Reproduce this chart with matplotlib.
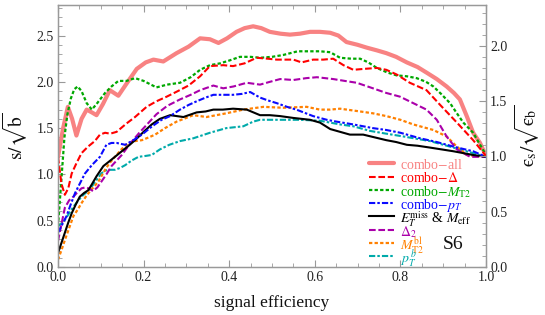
import matplotlib
matplotlib.use("Agg")
import matplotlib.pyplot as plt
from matplotlib.ticker import MultipleLocator, FormatStrFormatter

plt.rcParams['font.family'] = ['Liberation Serif', 'DejaVu Serif']
plt.rcParams['mathtext.fontset'] = 'stix'

# ---------------- data ----------------
all_x = [0.0, 0.012, 0.023, 0.033, 0.043, 0.055, 0.067, 0.079, 0.090, 0.105, 0.121, 0.141, 0.16, 0.184,
         0.205, 0.223, 0.246, 0.277, 0.305, 0.332, 0.355, 0.375, 0.395, 0.417, 0.436, 0.456, 0.475, 0.495,
         0.52, 0.542, 0.565, 0.589, 0.612, 0.636, 0.655, 0.674, 0.70, 0.721, 0.745, 0.767, 0.79, 0.815,
         0.84, 0.861, 0.885, 0.908, 0.925, 0.939, 0.955, 0.97, 0.986, 1.0]
all_y = [1.19, 1.50, 1.73, 1.60, 1.42, 1.60, 1.70, 1.67, 1.64, 1.76, 1.91, 1.85, 1.98, 2.14,
         2.21, 2.24, 2.22, 2.31, 2.38, 2.47, 2.46, 2.42, 2.47, 2.54, 2.58, 2.60, 2.58, 2.54,
         2.52, 2.51, 2.52, 2.54, 2.54, 2.53, 2.50, 2.43, 2.40, 2.37, 2.34, 2.31, 2.27, 2.21,
         2.16, 2.10, 2.03, 1.95, 1.88, 1.81, 1.63, 1.45, 1.34, 1.20]

delta_x = [0.0, 0.008, 0.016, 0.024, 0.032, 0.043, 0.055, 0.07, 0.086, 0.098, 0.110, 0.122, 0.137, 0.16,
           0.18, 0.207, 0.23, 0.254, 0.28, 0.305, 0.332, 0.355, 0.386, 0.409, 0.436, 0.464, 0.49, 0.511,
           0.55, 0.569, 0.596, 0.62, 0.643, 0.667, 0.69, 0.715, 0.745, 0.767, 0.791, 0.822, 0.861, 0.893,
           0.932, 0.97, 1.0]
delta_y = [1.19, 0.90, 0.78, 0.85, 1.01, 1.12, 1.23, 1.30, 1.36, 1.43, 1.45, 1.44, 1.46, 1.55,
           1.62, 1.73, 1.79, 1.84, 1.90, 1.96, 2.06, 2.17, 2.18, 2.17, 2.20, 2.26, 2.25, 2.24,
           2.24, 2.21, 2.24, 2.24, 2.25, 2.18, 2.13, 2.14, 2.15, 2.13, 2.08, 1.99, 1.91, 1.75,
           1.56, 1.37, 1.20]

mt2_x = [0.0, 0.008, 0.015, 0.022, 0.03, 0.038, 0.046, 0.055, 0.067, 0.079, 0.09, 0.11, 0.125, 0.141,
         0.16, 0.180, 0.2, 0.23, 0.255, 0.285, 0.31, 0.332, 0.355, 0.379, 0.40, 0.425, 0.45, 0.472,
         0.5, 0.526, 0.56, 0.589, 0.612, 0.636, 0.659, 0.685, 0.706, 0.725, 0.745, 0.77, 0.791, 0.815,
         0.838, 0.86, 0.877, 0.895, 0.916, 0.932, 0.947, 0.97, 1.0]
mt2_y = [0.44, 0.95, 1.40, 1.65, 1.82, 1.92, 1.95, 1.90, 1.77, 1.70, 1.76, 1.88, 1.95, 2.01,
         2.01, 2.04, 2.01, 1.94, 1.97, 1.99, 2.05, 2.13, 2.18, 2.20, 2.23, 2.27, 2.27, 2.26,
         2.27, 2.29, 2.33, 2.33, 2.33, 2.32, 2.26, 2.25, 2.25, 2.21, 2.15, 2.10, 2.07, 2.06,
         2.04, 2.00, 1.95, 1.87, 1.77, 1.66, 1.56, 1.45, 1.21]

pt_x = [0.0, 0.01, 0.02, 0.03, 0.04, 0.052, 0.063, 0.079, 0.098, 0.113, 0.125, 0.137, 0.157, 0.176,
        0.196, 0.22, 0.242, 0.262, 0.285, 0.305, 0.324, 0.345, 0.363, 0.385, 0.409, 0.43, 0.449, 0.472,
        0.49, 0.511, 0.535, 0.557, 0.596, 0.628, 0.651, 0.69, 0.736, 0.767, 0.80, 0.846, 0.885, 0.924,
        0.97, 1.0]
pt_y = [0.37, 0.46, 0.55, 0.68, 0.80, 0.91, 1.01, 1.10, 1.19, 1.32, 1.34, 1.34, 1.32, 1.37,
        1.43, 1.52, 1.59, 1.63, 1.70, 1.75, 1.79, 1.83, 1.86, 1.86, 1.86, 1.87, 1.89, 1.83,
        1.80, 1.77, 1.73, 1.70, 1.63, 1.59, 1.57, 1.54, 1.50, 1.48, 1.45, 1.39, 1.35, 1.30,
        1.25, 1.19]

met_x = [0.0, 0.008, 0.016, 0.024, 0.032, 0.042, 0.051, 0.061, 0.071, 0.08, 0.09, 0.106, 0.125, 0.149,
         0.165, 0.18, 0.2, 0.219, 0.238, 0.262, 0.293, 0.324, 0.345, 0.363, 0.385, 0.409, 0.441, 0.472,
         0.495, 0.519, 0.55, 0.589, 0.612, 0.636, 0.659, 0.682, 0.713, 0.74, 0.767, 0.79, 0.815, 0.84,
         0.869, 0.924, 0.97, 1.0]
met_y = [0.15, 0.26, 0.37, 0.48, 0.58, 0.68, 0.76, 0.80, 0.83, 0.90, 0.98, 1.09, 1.16, 1.25,
         1.31, 1.37, 1.46, 1.54, 1.60, 1.64, 1.62, 1.67, 1.68, 1.70, 1.70, 1.71, 1.70, 1.64,
         1.64, 1.63, 1.61, 1.59, 1.56, 1.49, 1.46, 1.43, 1.43, 1.40, 1.37, 1.35, 1.32, 1.31,
         1.29, 1.25, 1.21, 1.19]

d2_x = [0.0, 0.008, 0.016, 0.026, 0.036, 0.046, 0.055, 0.064, 0.071, 0.082, 0.092, 0.101, 0.113, 0.125,
        0.149, 0.168, 0.19, 0.21, 0.23, 0.255, 0.285, 0.31, 0.332, 0.363, 0.386, 0.41, 0.441, 0.472,
        0.495, 0.519, 0.55, 0.58, 0.605, 0.643, 0.67, 0.698, 0.736, 0.767, 0.799, 0.83, 0.861, 0.885,
        0.908, 0.932, 0.963, 1.0]
d2_y = [0.28, 0.46, 0.64, 0.72, 0.76, 0.81, 0.85, 0.86, 0.85, 0.82, 0.86, 0.92, 1.00, 1.09,
        1.21, 1.33, 1.45, 1.55, 1.65, 1.74, 1.81, 1.86, 1.91, 1.96, 1.93, 1.95, 1.99, 1.97,
        2.00, 2.03, 2.02, 2.04, 2.05, 2.03, 2.01, 1.99, 1.93, 1.88, 1.84, 1.77, 1.70, 1.59,
        1.41, 1.27, 1.19, 1.19]

bl_x = [0.0, 0.008, 0.016, 0.026, 0.036, 0.046, 0.055, 0.065, 0.075, 0.094, 0.110, 0.12, 0.133, 0.148,
        0.164, 0.18, 0.196, 0.212, 0.227, 0.25, 0.277, 0.316, 0.347, 0.393, 0.433, 0.48, 0.526, 0.581,
        0.612, 0.636, 0.659, 0.706, 0.736, 0.767, 0.80, 0.83, 0.877, 0.908, 0.932, 0.955, 1.0]
bl_y = [0.08, 0.18, 0.29, 0.42, 0.55, 0.62, 0.69, 0.76, 0.82, 0.92, 1.05, 1.12, 1.19, 1.27,
        1.34, 1.36, 1.37, 1.40, 1.43, 1.50, 1.57, 1.64, 1.62, 1.66, 1.70, 1.73, 1.72, 1.73,
        1.70, 1.70, 1.71, 1.68, 1.66, 1.63, 1.59, 1.54, 1.48, 1.41, 1.30, 1.21, 1.19]

ptb_x = [0.0, 0.008, 0.016, 0.026, 0.036, 0.046, 0.055, 0.067, 0.079, 0.09, 0.101, 0.11, 0.118, 0.133,
         0.145, 0.157, 0.172, 0.188, 0.205, 0.219, 0.238, 0.26, 0.285, 0.316, 0.355, 0.393, 0.433, 0.456,
         0.472, 0.519, 0.565, 0.612, 0.659, 0.69, 0.729, 0.767, 0.807, 0.869, 0.924, 0.97, 1.0]
ptb_y = [0.44, 0.47, 0.51, 0.58, 0.65, 0.71, 0.76, 0.81, 0.87, 0.94, 1.01, 1.04, 1.05, 1.05,
         1.07, 1.10, 1.15, 1.19, 1.20, 1.21, 1.27, 1.32, 1.36, 1.39, 1.45, 1.50, 1.52, 1.57,
         1.59, 1.59, 1.59, 1.58, 1.54, 1.52, 1.47, 1.44, 1.41, 1.36, 1.29, 1.23, 1.19]

labels = [r"combo$-$all", r"combo$-\Delta$", r"combo$-M_{\mathrm{T2}}$", r"combo$-p_T$",
          r"$E_T^{\mathrm{miss}}$ & $M_{\mathrm{eff}}$", r"$\Delta_2$", r"$M_{\mathrm{T2}}^{\mathrm{bl}}$",
          r"$p_T^{\,b}$"]
x_ticks = [0.0, 0.2, 0.4, 0.6, 0.8, 1.0]
y_ticks_left = [0.0, 0.5, 1.0, 1.5, 2.0, 2.5]
y_ticks_right = [0.0, 0.5, 1.0, 1.5, 2.0]
panel_tag = "S6"

# ---------------- styles ----------------
DASH = (3.2, 1.3)
DOT = (1.5, 1.0)
DASHDOT = (3.0, 1.0, 1.2, 1.0)
series = [
    (all_x, all_y, dict(color="#F88282", lw=3.0, solid_capstyle="round")),
    (delta_x, delta_y, dict(color="#FF0000", lw=1.5, dashes=DASH)),
    (mt2_x, mt2_y, dict(color="#00A800", lw=1.6, dashes=DOT)),
    (pt_x, pt_y, dict(color="#0A0AFF", lw=1.5, dashes=DASHDOT)),
    (met_x, met_y, dict(color="#000000", lw=1.5)),
    (d2_x, d2_y, dict(color="#AA00AA", lw=1.5, dashes=DASH)),
    (bl_x, bl_y, dict(color="#FF8000", lw=1.6, dashes=DOT)),
    (ptb_x, ptb_y, dict(color="#00AAAA", lw=1.5, dashes=DASHDOT)),
]

fig = plt.figure(figsize=(5.45, 3.15), dpi=100)
ax = fig.add_axes([58/545, 1 - 267/315, 428/545, 262/315])

order = [7, 6, 5, 4, 3, 2, 1, 0]
for i in order:
    xs, ys, st = series[i]
    ax.plot(xs, ys, zorder=2 + (8 - i) * 0.1 if i else 2, **st)

ax.set_xlim(0, 1)
ax.set_ylim(0, 2.83)

frame_col = "#999999"
for sp in ax.spines.values():
    sp.set_color(frame_col)
    sp.set_linewidth(0.9)

ax.set_xticks(x_ticks)
ax.set_yticks(y_ticks_left)
ax.xaxis.set_minor_locator(MultipleLocator(0.05))
ax.yaxis.set_minor_locator(MultipleLocator(0.1))
ax.xaxis.set_major_formatter(FormatStrFormatter("%.1f"))
ax.yaxis.set_major_formatter(FormatStrFormatter("%.1f"))
ax.tick_params(which="both", direction="in", top=True, right=False, color=frame_col,
               labelsize=10, labelcolor="#222222", pad=3)
ax.tick_params(which="major", length=5, width=0.8)
ax.tick_params(which="minor", length=2.8, width=0.6)

ax2 = ax.twinx()
ax2.set_ylim(0, 2.83 / 1.195)
ax2.set_yticks(y_ticks_right)
ax2.yaxis.set_minor_locator(MultipleLocator(0.1))
ax2.yaxis.set_major_formatter(FormatStrFormatter("%.1f"))
ax2.tick_params(which="both", direction="in", color=frame_col, labelsize=10,
                labelcolor="#222222", pad=3)
ax2.tick_params(which="major", length=5, width=0.8)
ax2.tick_params(which="minor", length=2.8, width=0.6)
for sp in ax2.spines.values():
    sp.set_color(frame_col)
    sp.set_linewidth(0.9)

eps = "\u03f5"
ax.set_xlabel("signal efficiency", fontsize=12.5, labelpad=8, color="#111111")
ax.set_ylabel(r"$\mathrm{s}/\sqrt{\mathrm{b}}$", fontsize=14, labelpad=5, color="#111111")
ax2.set_ylabel(r"$\mathrm{" + eps + r"_s}/\sqrt{\mathrm{" + eps + r"_b}}$",
               fontsize=14, labelpad=4, color="#111111", rotation=90)

# manual legend (axes coordinates)
hx0, hx1, tx = 0.727, 0.785, 0.799
y0, dy = 0.396, 0.0508
for i, (xs, ys, st) in enumerate(series):
    yy = y0 - i * dy
    ax.plot([hx0, hx1], [yy, yy], transform=ax.transAxes, clip_on=False, zorder=5, **st)
    ax.text(tx, yy, labels[i], transform=ax.transAxes, color=st["color"], fontsize=10,
            va="center_baseline", ha="left", zorder=5)

ax.text(0.923, 0.084, panel_tag, transform=ax.transAxes, fontsize=14, ha="center",
        va="center", color="#111111")

fig.savefig("out.png", dpi=100)
